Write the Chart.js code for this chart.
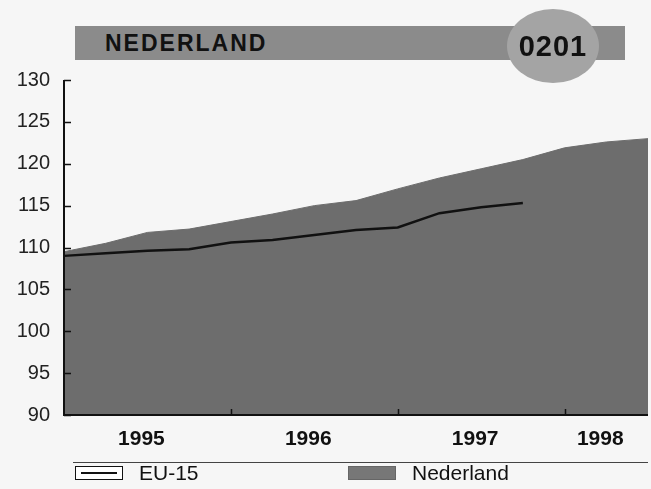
<!DOCTYPE html>
<html lang="nl">
<head>
<meta charset="UTF-8">
<title>Nederland 0201</title>
<script src="https://cdn.jsdelivr.net/npm/chart.js"></script>
<style>
    body {
        margin: 0;
        background: #f6f6f6;
        font-family: "Liberation Sans", Arial, sans-serif;
        width: 651px;
        height: 489px;
        position: relative;
        overflow: hidden;
    }
    #chart {
        position: absolute;
        left: 0;
        top: 0;
    }
    .bar {
        position: absolute;
        left: 75px;
        top: 26px;
        width: 550px;
        height: 34px;
        background: #8b8b8b;
    }
    .bar span {
        position: absolute;
        left: 30px;
        top: 4px;
        font-weight: bold;
        font-size: 23px;
        letter-spacing: 2px;
        color: #111;
    }
    .badge {
        position: absolute;
        left: 507px;
        top: 9px;
        width: 92px;
        height: 74px;
        border-radius: 50%;
        background: #a4a4a4;
        color: #111;
        font-weight: bold;
        font-size: 29px;
        letter-spacing: 1px;
        line-height: 74px;
        text-align: center;
    }
    .sep {
        position: absolute;
        left: 73px;
        top: 462px;
        width: 575px;
        height: 1px;
        background: #444;
    }
    .legend {
        position: absolute;
        top: 462px;
        font-size: 21px;
        color: #111;
        line-height: 22px;
    }
    .legend i {
        display: inline-block;
        vertical-align: middle;
        width: 46px;
        height: 12px;
        margin-right: 16px;
        position: relative;
        top: -1px;
    }
    .eu i {
        background: #fff;
        border: 1px solid #111;
    }
    .eu i::after {
        content: "";
        position: absolute;
        left: 5px;
        right: 5px;
        top: 5px;
        height: 2px;
        background: #111;
    }
    .nl i {
        background: #777;
        border: 1px solid #666;
    }
</style>
</head>
<body>
<canvas id="chart" width="651" height="489"></canvas>
<div class="bar"><span>NEDERLAND</span></div>
<div class="badge">0201</div>
<div class="sep"></div>
<div class="legend eu" style="left:75px"><i></i>EU-15</div>
<div class="legend nl" style="left:348px"><i></i>Nederland</div>

<script>
    // quarterly points, 1995 to mid 1998
    const periods = [
        '1995-01', '1995-04', '1995-07', '1995-10',
        '1996-01', '1996-04', '1996-07', '1996-10',
        '1997-01', '1997-04', '1997-07', '1997-10',
        '1998-01', '1998-04', '1998-07'
    ];

    const nederland = [
        109.5, 110.5, 111.8, 112.2,
        113.1, 114.0, 115.0, 115.6,
        117.0, 118.3, 119.4, 120.5,
        121.9, 122.6, 123.0
    ];

    const eu15 = [
        109.0, 109.3, 109.6, 109.8,
        110.6, 110.9, 111.5, 112.1,
        112.4, 114.1, 114.8, 115.3,
        null, null, null
    ];

    // year label sits at the middle of the visible part of each year
    const yearLabels = ['1995', '1996', '1997', '1998'];
    const yearLabelAt = ['1995-07', '1996-07', '1997-07', '1998-04'];
    const yearBreaks = ['1996-01', '1997-01', '1998-01'];

    const yTicks = [90, 95, 100, 105, 110, 115, 120, 125, 130];

    const axisMarks = {
        id: 'axisMarks',
        afterDatasetsDraw(chart) {
            const {ctx, chartArea, scales} = chart;
            ctx.save();
            ctx.strokeStyle = '#111';
            ctx.lineWidth = 2;
            ctx.beginPath();
            ctx.moveTo(chartArea.left, chartArea.top);
            ctx.lineTo(chartArea.left, chartArea.bottom);
            ctx.lineTo(chartArea.right, chartArea.bottom);
            ctx.stroke();

            ctx.lineWidth = 1.5;
            ctx.beginPath();
            yTicks.forEach(v => {
                const y = Math.round(scales.y.getPixelForValue(v)) + 0.5;
                ctx.moveTo(chartArea.left, y);
                ctx.lineTo(chartArea.left + 7, y);
            });
            yearBreaks.forEach(p => {
                const x = Math.round(scales.x.getPixelForValue(periods.indexOf(p))) + 0.5;
                ctx.moveTo(x, chartArea.bottom);
                ctx.lineTo(x, chartArea.bottom - 6);
            });
            ctx.stroke();
            ctx.restore();
        }
    };

    const ctx = document.getElementById('chart').getContext('2d');

    new Chart(ctx, {
        type: 'line',
        data: {
            labels: periods,
            datasets: [
                {
                    label: 'EU-15',
                    data: eu15,
                    borderColor: '#111',
                    borderWidth: 2.5,
                    pointRadius: 0,
                    tension: 0,
                    fill: false,
                    spanGaps: false
                },
                {
                    label: 'Nederland',
                    data: nederland,
                    borderColor: '#6d6d6d',
                    borderWidth: 1,
                    backgroundColor: '#6d6d6d',
                    pointRadius: 0,
                    tension: 0,
                    fill: 'start'
                }
            ]
        },
        options: {
            responsive: false,
            animation: false,
            layout: {
                padding: {top: 80, right: 3, left: 0, bottom: 0}
            },
            scales: {
                x: {
                    type: 'category',
                    offset: false,
                    grid: {display: false, drawTicks: false},
                    border: {display: false},
                    afterFit: s => {
                        s.height = 74;
                        s.paddingLeft = 0;
                        s.paddingRight = 0;
                    },
                    ticks: {
                        autoSkip: false,
                        maxRotation: 0,
                        padding: 12,
                        labelOffset: -6,
                        color: '#111',
                        font: {family: 'Liberation Sans', size: 21, weight: 'bold'},
                        callback: function(value, i) {
                            const k = yearLabelAt.indexOf(periods[i]);
                            return k >= 0 ? yearLabels[k] : '';
                        }
                    }
                },
                y: {
                    min: 90,
                    max: 130,
                    grid: {display: false, drawTicks: false},
                    border: {display: false},
                    afterFit: s => { s.width = 64; },
                    ticks: {
                        stepSize: 5,
                        padding: 14,
                        color: '#222',
                        font: {family: 'Liberation Sans', size: 20}
                    }
                }
            },
            plugins: {
                legend: {display: false},
                tooltip: {enabled: false}
            }
        },
        plugins: [axisMarks]
    });
</script>
</body>
</html>
